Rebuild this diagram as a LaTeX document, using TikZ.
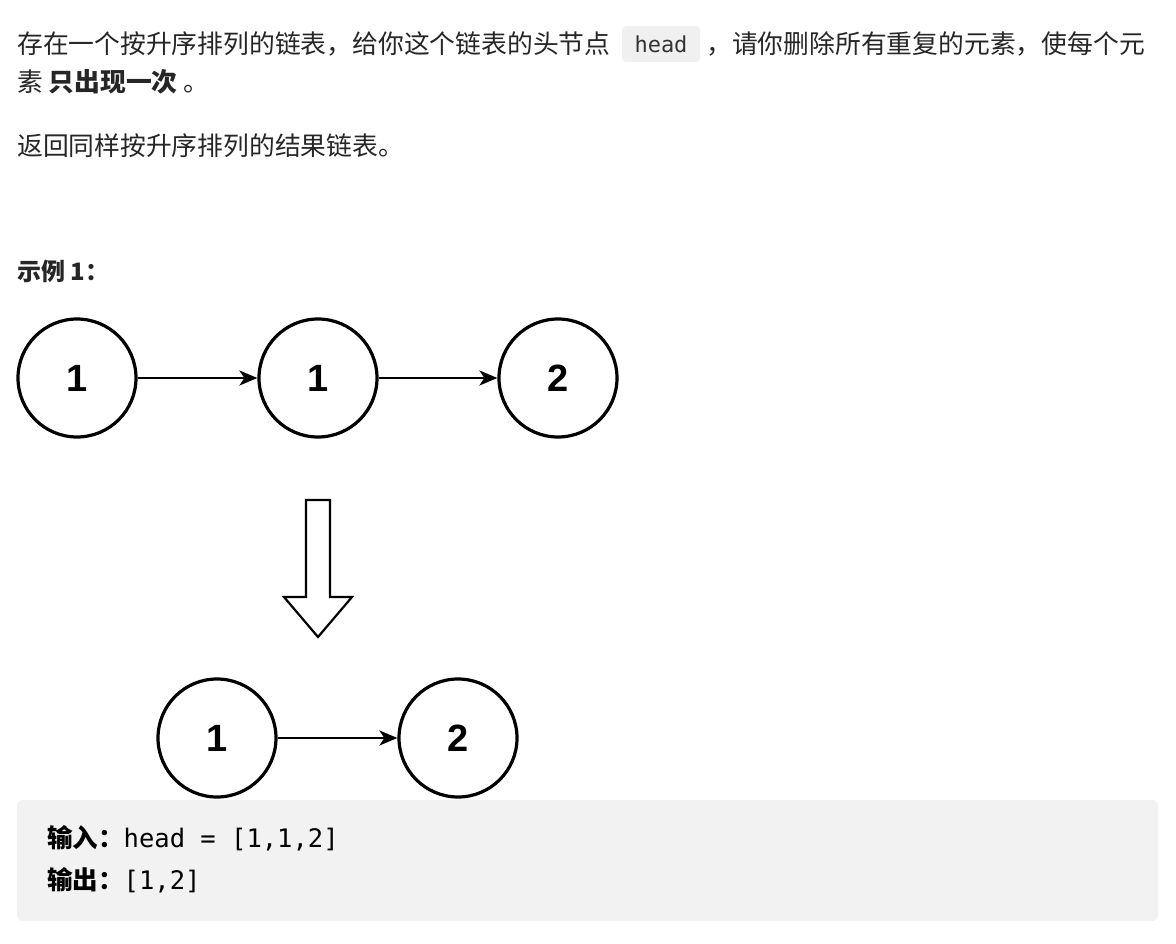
\documentclass[tikz,border=0pt]{standalone}
\usepackage{fontspec}
\usetikzlibrary{arrows.meta}
\setmainfont{Liberation Sans}
\newfontfamily\cjk{Noto Sans CJK SC}
\setmonofont{DejaVu Sans Mono}
\begin{document}
\begin{tikzpicture}[x=1pt,y=-1pt,
  txt/.style={anchor=west,inner sep=0pt,font=\fontsize{25.8}{30}\selectfont\cjk,text=black!85},
  circ/.style={circle,draw,line width=3.2pt,minimum size=118pt,inner sep=0pt,font=\fontsize{38}{40}\selectfont\bfseries},
  arr/.style={-{Stealth[length=18pt,width=15pt,inset=5pt]},line width=2.2pt}]
\useasboundingbox (0,0) rectangle (1176,944);
\fill[black!6,rounded corners=4pt] (622,26) rectangle (700,62);
\node[txt] (l1a) at (17,44) {存在一个按升序排列的链表，给你这个链表的头节点};
\node[anchor=center,inner sep=0pt,font=\fontsize{22}{26}\selectfont\ttfamily,text=black!80] (hd) at (661,44) {head};
\node[txt] (l1b) at (706,44) {，请你删除所有重复的元素，使每个元};
\node[txt] (l2) at (17,82) {素 {\bfseries 只出现一次} 。};
\node[txt] (l3) at (17,146) {返回同样按升序排列的结果链表。};
\node[txt,font=\fontsize{24}{28}\selectfont\cjk\bfseries] (ex) at (17,271) {示例 1：};
\node[circ] (a1) at (77,378) {1};
\node[circ] (a2) at (318,378) {1};
\node[circ] (a3) at (558,378) {2};
\draw[arr] (a1) -- (a2);
\draw[arr] (a2) -- (a3);
\draw[line width=2.2pt,line join=miter] (306,500) -- (330,500) -- (330,597) -- (352,597) -- (318,637) -- (284,597) -- (306,597) -- cycle;
\node[circ] (b1) at (217,738) {1};
\node[circ] (b2) at (458,738) {2};
\draw[arr] (b1) -- (b2);
\fill[black!5,rounded corners=6pt] (17,800) rectangle (1158,921);
\node[anchor=west,inner sep=0pt,font=\fontsize{25.5}{30}\selectfont] (in) at (47,838) {{\cjk\bfseries 输入：}\ttfamily head = [1,1,2]};
\node[anchor=west,inner sep=0pt,font=\fontsize{25.5}{30}\selectfont] (out) at (47,880) {{\cjk\bfseries 输出：}\ttfamily [1,2]};
\end{tikzpicture}
\end{document}
